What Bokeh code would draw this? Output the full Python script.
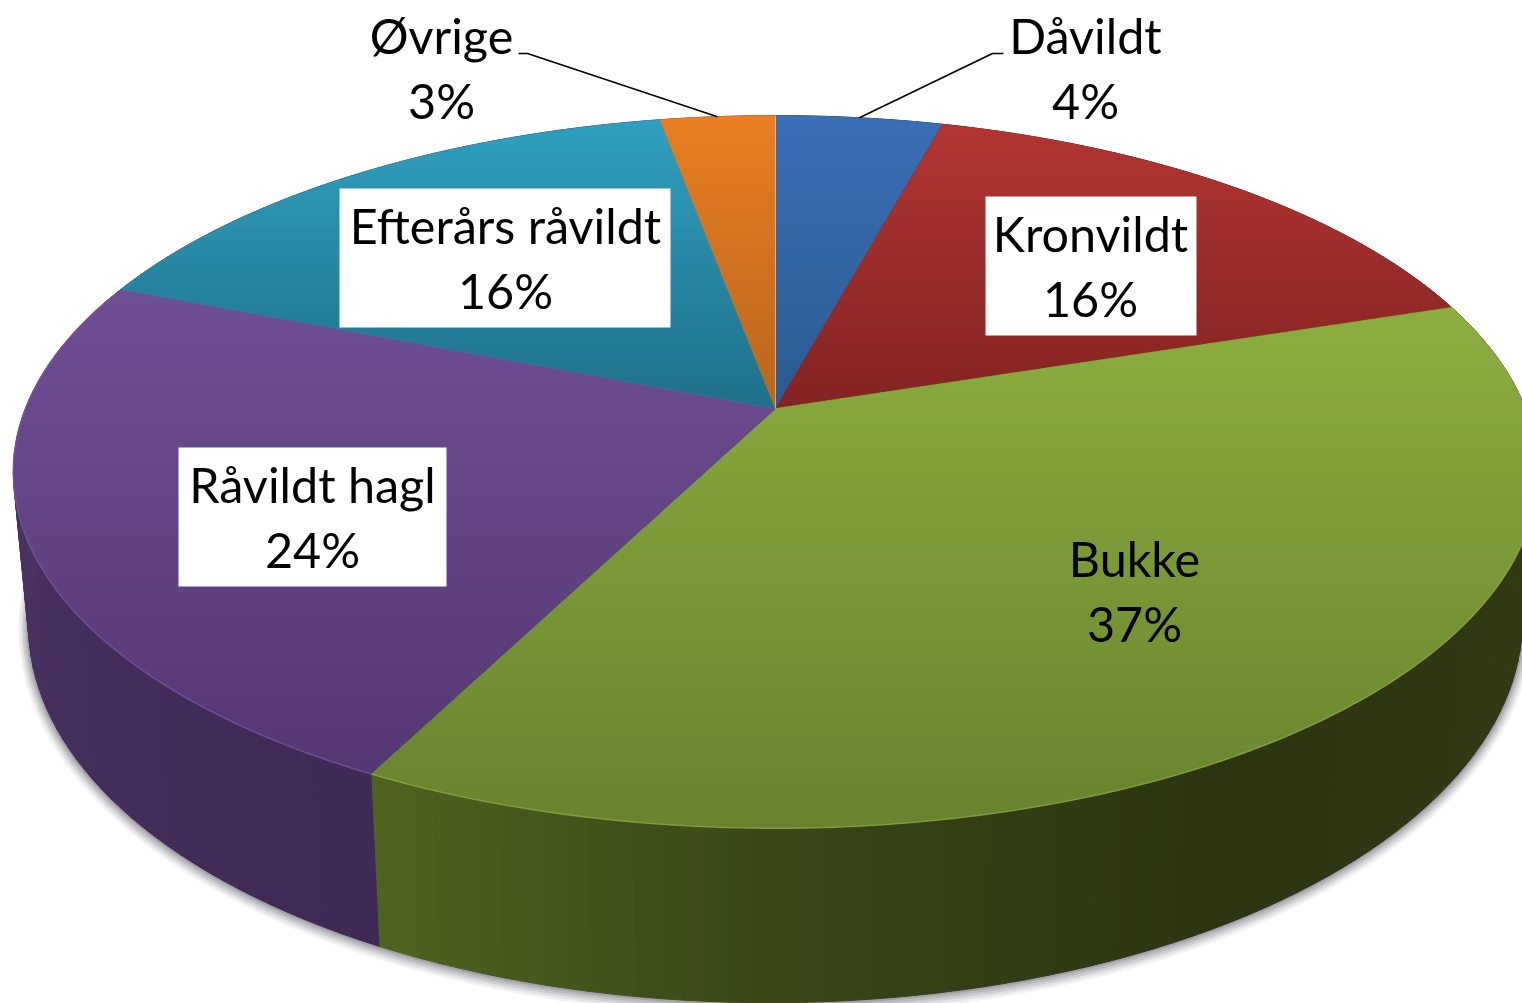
import numpy as np
from bokeh.plotting import figure
from bokeh.models import Range1d
from bokeh.core.properties import value
from bokeh.embed import file_html
from bokeh.resources import INLINE

# ---- data
names = ["Dåvildt", "Kronvildt", "Bukke", "Råvildt hagl", "Efterårs råvildt", "Øvrige"]
shares = [4.2, 15.8, 37.5, 23.5, 16.1, 2.9]
pct_labels = ["4%", "16%", "37%", "24%", "16%", "3%"]

# ---- styles
top_hi = ["#3a6fb5", "#b23533", "#8cae40", "#6f4f94", "#309fc0", "#ea7e22"]
top_lo = ["#2a5a90", "#822322", "#68822e", "#543872", "#1f7088", "#b8661e"]
rim_col = ["#4a80c4", "#c04a48", "#8fb048", "#7a5fa4", "#45a8c8", "#f09040"]
wall_stops = {
    "t": [0, 60, 100, 150, 180, 207, 207.01, 240, 285, 360],
    "r": [0x33, 0x33, 0x33, 0x2c, 0x38, 0x50, 0x3e, 0x44, 0x4e, 0x4e],
    "g": [0x3b, 0x3b, 0x3b, 0x34, 0x46, 0x64, 0x2a, 0x2e, 0x36, 0x36],
    "b": [0x16, 0x16, 0x16, 0x12, 0x18, 0x20, 0x54, 0x5c, 0x68, 0x68],
}

# projective view of the disc
CX, CY, A, B, K = 775.0, 408.0, 750.0, 345.0, 0.178
CXB, CYB, AB, BB, SHEAR = 775.0, 554.5, 735.0, 368.0, -0.004


def top_pt(t):
    r = np.radians(t)
    X, Y = np.sin(r), np.cos(r)
    w = 1 + K * Y
    return CX + A * X / w, CY - B * Y / w


def bot_pt(t, grow=0.0):
    r = np.radians(t)
    X, Y = np.sin(r), np.cos(r)
    w = 1 + K * Y
    x = CXB + (AB + grow) * X / w
    y = CYB - (BB + grow) * Y / w
    return x, y + SHEAR * (x - CXB)


def clip(poly, y0, y1):
    def half(pts, keep, cross):
        out = []
        for i in range(len(pts)):
            a, b = pts[i - 1], pts[i]
            ka, kb = keep(a), keep(b)
            if ka != kb:
                s = (cross - a[1]) / (b[1] - a[1])
                out.append((a[0] + s * (b[0] - a[0]), cross))
            if kb:
                out.append(b)
        return out
    pts = half(poly, lambda p: p[1] >= y0, y0)
    if pts:
        pts = half(pts, lambda p: p[1] <= y1, y1)
    return pts


def mix(c0, c1, s):
    a = [int(c0[i:i + 2], 16) for i in (1, 3, 5)]
    b = [int(c1[i:i + 2], 16) for i in (1, 3, 5)]
    return "#%02x%02x%02x" % tuple(round(a[i] + s * (b[i] - a[i])) for i in range(3))


p = figure(width=1522, height=1003, x_range=Range1d(0, 1522), y_range=Range1d(1003, 0),
           min_border=0, toolbar_location=None, output_backend="svg")
p.axis.visible = False
p.grid.visible = False
p.outline_line_color = None
p.background_fill_color = "white"
p.border_fill_color = "white"

# soft shadow
ts = np.arange(0, 360.01, 2.0)
for g, al in zip([10, 8, 6, 4, 2], [0.07, 0.09, 0.12, 0.15, 0.2]):
    pts = [bot_pt(t, g) for t in ts]
    p.patch([q[0] for q in pts], [q[1] + g * 0.1 for q in pts], fill_color="#45454f", fill_alpha=al, line_color=None)

# side wall, coloured by angle
wx, wy, wc = [], [], []
for t in np.arange(0, 360, 1.5):
    t1 = t + 1.5
    a0, a1, b1, b0 = top_pt(t), top_pt(t1), bot_pt(t1), bot_pt(t)
    wx.append([a0[0], a1[0], b1[0], b0[0]])
    wy.append([a0[1], a1[1], b1[1], b0[1]])
    tm = t + 0.75
    rgb = [np.interp(tm, wall_stops["t"], wall_stops[k]) for k in "rgb"]
    wc.append("#%02x%02x%02x" % tuple(int(round(v)) for v in rgb))
p.patches(wx, wy, fill_color=wc, line_color=wc, line_width=1)

# top face with vertical gradient in bands
ends = np.cumsum(shares) / np.sum(shares) * 360.0
starts = np.concatenate([[0.0], ends[:-1]])
for i in range(len(shares)):
    angs = np.linspace(starts[i], ends[i], max(8, int((ends[i] - starts[i]) * 2)))
    rim = [top_pt(t) for t in angs]
    poly = [(CX, CY)] + rim
    ys = [q[1] for q in poly]
    lo, hi = min(ys), max(ys)
    mid = mix(top_hi[i], top_lo[i], 0.5)
    p.patch([q[0] for q in poly], [q[1] for q in poly], fill_color=mid, line_color=mid, line_width=0.8)
    bx, by, bc = [], [], []
    n = max(12, int((hi - lo) / 6))
    for j in range(n):
        y0 = lo + (hi - lo) * j / n
        y1 = lo + (hi - lo) * (j + 1) / n + 0.8
        c = clip(poly, y0, y1)
        if len(c) >= 3:
            bx.append([q[0] for q in c])
            by.append([q[1] for q in c])
            bc.append(mix(top_hi[i], top_lo[i], (j + 0.5) / n))
    p.patches(bx, by, fill_color=bc, line_color=None)
    # light rim on the front edge
    vis = [t for t in angs if 95 <= t <= 290]
    if len(vis) > 1:
        pts = [top_pt(t) for t in vis]
        p.line([q[0] for q in pts], [q[1] for q in pts], line_color=rim_col[i], line_width=1.6, line_alpha=0.55)

# pale seam at twelve o'clock
q = top_pt(0.0)
p.line([CX, q[0]], [CY, q[1]], line_color="#dfe4ea", line_width=1, line_alpha=0.55)

# ---- labels (layout)
label_x = [1085, 1090, 1134, 312, 505, 441]
label_y = [34, 232, 557, 483, 224, 34]
leader_y = [53, 53]
boxes = {1: (985, 1196, 196, 335), 3: (178, 446, 447, 586), 4: (339, 670, 188, 327)}
LINE = 65
for i, (x0, x1, y0, y1) in boxes.items():
    p.quad(left=[x0], right=[x1], top=[y0], bottom=[y1], fill_color="white", line_color=None)

# leader lines to slice midpoints
mid_t = (starts + ends) / 2
for (i, lx, kx), ly in zip([(0, 1003, 992), (5, 518, 527)], leader_y):
    a = top_pt(mid_t[i])
    p.line([lx, kx, a[0]], [ly, ly, a[1]], line_color="black", line_width=1.6)

font = value("Lato")
p.text(label_x, label_y, text=names, text_font=font, text_font_size="48.5px", text_color="black",
       text_align="center", text_baseline="alphabetic")
p.text(label_x, [v + LINE for v in label_y], text=pct_labels, text_font=font, text_font_size="48.5px",
       text_color="black", text_align="center", text_baseline="alphabetic")

open("out.html", "w").write(file_html(p, INLINE))
